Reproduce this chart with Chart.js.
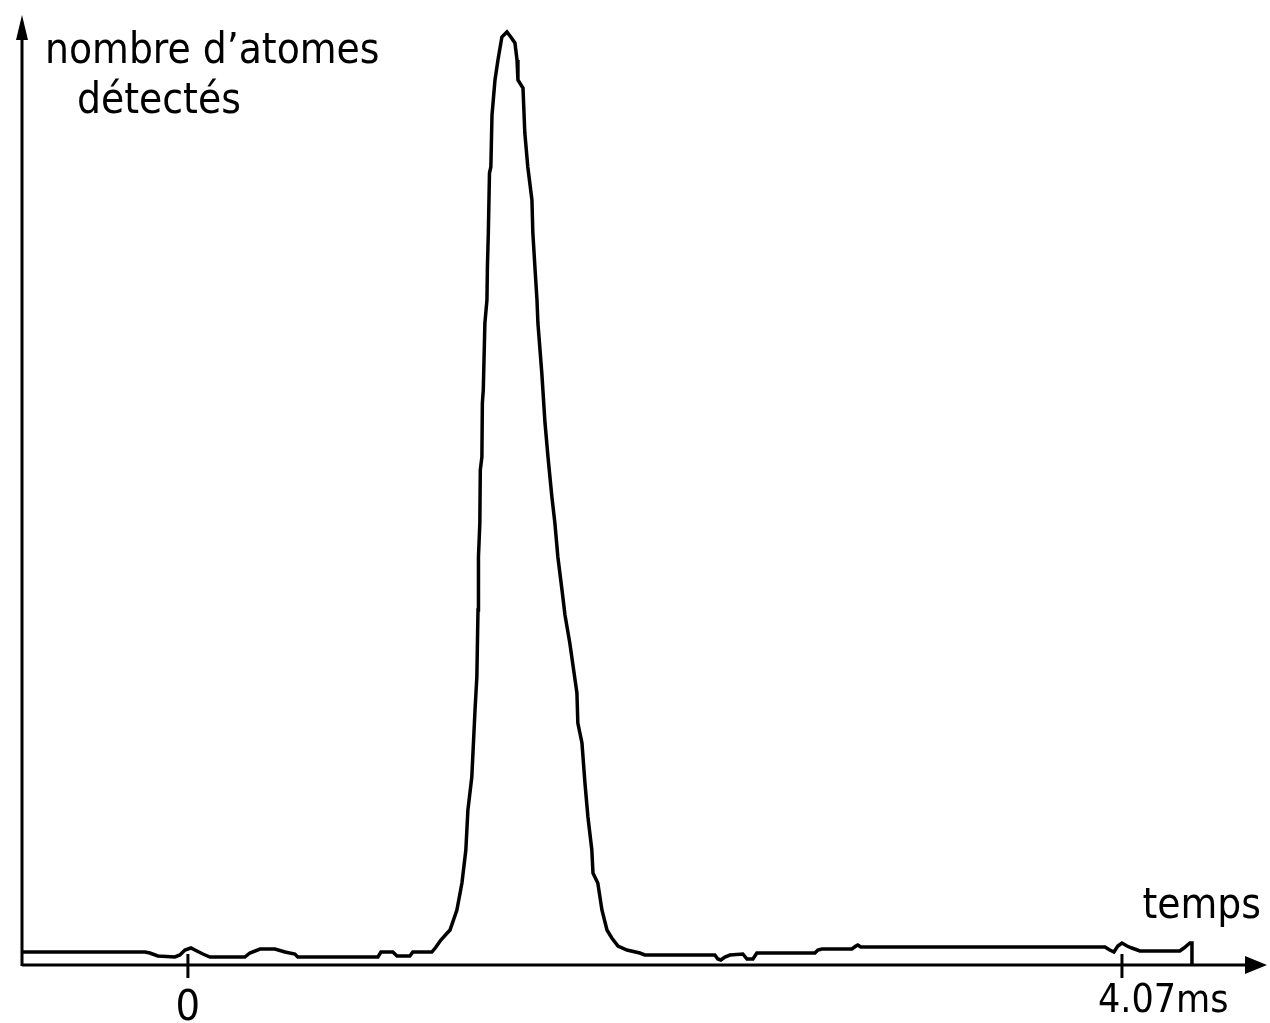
<!DOCTYPE html>
<html>
<head>
<meta charset="utf-8">
<script src="https://cdn.jsdelivr.net/npm/chart.js@4.4.1/dist/chart.umd.min.js"></script>
<style>
	body { margin: 0; background: #fff; }
	#wrap { width: 1270px; height: 1023px; }
</style>
</head>
<body>
<div id="wrap"><canvas id="canvas01" width="1270" height="1023"></canvas></div>
<script>

// temps (ms) et nombre d'atomes detectes (unites arbitraires)
var tempsArray = [
	-0.719, -0.187, -0.166, -0.131, -0.057, -0.035, -0.013, 0.013, 0.039, 0.065,
	0.096, 0.248, 0.270, 0.314, 0.379, 0.423, 0.466, 0.479, 0.828, 0.841,
	0.893, 0.911, 0.967, 0.980, 1.063, 1.081, 1.102, 1.142, 1.172, 1.194,
	1.211, 1.220, 1.237, 1.251, 1.259, 1.264, 1.266, 1.272, 1.274, 1.281,
	1.283, 1.287, 1.294, 1.303, 1.305, 1.309, 1.314, 1.320, 1.325, 1.338,
	1.351, 1.368, 1.390, 1.407, 1.425, 1.434, 1.438, 1.460, 1.468, 1.481,
	1.499, 1.503, 1.512, 1.521, 1.525, 1.542, 1.556, 1.569, 1.586, 1.599,
	1.612, 1.630, 1.643, 1.664, 1.695, 1.699, 1.717, 1.730, 1.743, 1.760,
	1.765, 1.786, 1.804, 1.826, 1.847, 1.874, 1.913, 1.969, 1.991, 2.296,
	2.309, 2.322, 2.340, 2.362, 2.418, 2.436, 2.462, 2.479, 2.732, 2.745,
	2.763, 2.893, 2.911, 2.919, 2.932, 2.950, 3.996, 4.017, 4.035, 4.052,
	4.070, 4.092, 4.113, 4.148, 4.322, 4.340, 4.366, 4.375, 4.375
];
var atomesArray = [
	13, 13, 12, 9, 8, 10, 15, 17, 14, 11,
	8, 8, 12, 16, 16, 13, 11, 8, 8, 13,
	13, 9, 9, 13, 13, 18, 25, 35, 55, 82,
	115, 155, 188, 255, 288, 355, 408, 442, 495, 508,
	562, 575, 642, 665, 698, 732, 792, 798, 850, 885,
	905, 928, 933, 928, 922, 905, 885, 877, 832, 798,
	765, 732, 698, 665, 642, 592, 542, 508, 468, 442,
	408, 375, 350, 322, 272, 242, 222, 182, 148, 115,
	92, 82, 55, 35, 27, 19, 15, 12, 10, 10,
	6, 5, 8, 10, 11, 6, 6, 12, 12, 15,
	16, 16, 19, 20, 18, 18, 18, 15, 13, 19,
	22, 19, 17, 14, 14, 17, 22, 22, 0
];

// graduations de l'axe des temps
var ticksTemps = [0, 4.07];
var ticksLabels = ['0', '4.07ms'];

var xMin = -0.723, xMax = 4.702;
var yMin = 0, yMax = 950;

var fontFam = '"DejaVu Sans Condensed", "DejaVu Sans", sans-serif';

const axes_fleches = {
	id: 'axes_fleches',
	afterDraw(chart, args, options) {
		const { ctx, chartArea: { left, top, right, bottom }, scales: { x, y } } = chart;

		ctx.save();
		ctx.strokeStyle = '#000';
		ctx.fillStyle = '#000';
		ctx.lineWidth = 3;

		// axe vertical
		ctx.beginPath();
		ctx.moveTo(left, bottom + 1);
		ctx.lineTo(left, top + 10);
		ctx.stroke();
		ctx.beginPath();
		ctx.moveTo(left, top);
		ctx.lineTo(left - 6, top + 25);
		ctx.lineTo(left + 6, top + 25);
		ctx.closePath();
		ctx.fill();

		// axe horizontal
		ctx.beginPath();
		ctx.moveTo(left, bottom);
		ctx.lineTo(right - 10, bottom);
		ctx.stroke();
		ctx.beginPath();
		ctx.moveTo(right, bottom);
		ctx.lineTo(right - 22, bottom - 9);
		ctx.lineTo(right - 22, bottom + 9);
		ctx.closePath();
		ctx.fill();

		// graduations
		for (var i = 0; i < ticksTemps.length; i++) {
			var px = x.getPixelForValue(ticksTemps[i]);
			ctx.beginPath();
			ctx.moveTo(px, bottom - 11);
			ctx.lineTo(px, bottom + 13);
			ctx.stroke();
		}

		ctx.textBaseline = 'alphabetic';

		// labels des graduations
		ctx.font = '43px ' + fontFam;
		ctx.textAlign = 'center';
		ctx.fillText(ticksLabels[0], x.getPixelForValue(ticksTemps[0]), bottom + 55);
		ctx.font = '39px ' + fontFam;
		ctx.textAlign = 'left';
		ctx.fillText(ticksLabels[1], x.getPixelForValue(ticksTemps[1]) - 24, bottom + 47);

		// titres des axes
		ctx.font = '42px ' + fontFam;
		ctx.fillText('nombre d\u2019atomes', left + 23, top + 48);
		ctx.fillText('détectés', left + 55, top + 98);
		ctx.textAlign = 'right';
		ctx.fillText('temps', right - 6, bottom - 47);

		ctx.restore();
	}
};

var chartData = {
	datasets: [{
		label: "nombre d'atomes détectés",
		data: tempsArray.map(function (t, i) { return { x: t, y: atomesArray[i] }; }),
		borderColor: '#000',
		borderWidth: 3.5,
		pointRadius: 0,
		tension: 0,
		fill: false,
	}]
};

var config01 = {
	type: 'line',
	data: chartData,
	options: {
		responsive: false,
		animation: false,
		layout: {
			padding: { left: 22, top: 15, right: 3, bottom: 58 }
		},
		plugins: {
			legend: { display: false },
			title: { display: false },
			tooltip: { enabled: false },
		},
		scales: {
			x: {
				type: 'linear',
				display: false,
				min: xMin,
				max: xMax,
			},
			y: {
				display: false,
				min: yMin,
				max: yMax,
			}
		},
	},
	plugins: [axes_fleches]
};

var ctx01 = document.getElementById('canvas01').getContext('2d');
var graf_signal = new Chart(ctx01, config01);

</script>
</body>
</html>
